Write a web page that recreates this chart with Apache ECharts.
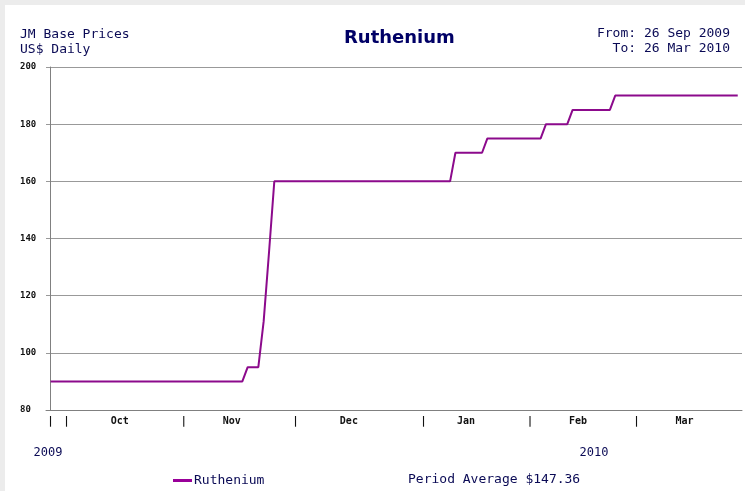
<!DOCTYPE html>
<html><head><meta charset="utf-8">
<script src="https://cdn.jsdelivr.net/npm/echarts@6/dist/echarts.min.js"></script>
<style>
html,body{margin:0;padding:0;background:#ececec;width:745px;height:491px;overflow:hidden}
#c{position:absolute;left:5px;top:5px;width:740px;height:486px;background:#fff}
</style></head><body><div id="c"></div>
<script>
// ---- data (x = trading-day index from 28 Sep 2009) ----
const seriesName = 'Ruthenium';
const dayIdx = [0, 36, 37, 39, 40, 41, 42, 75, 76, 81, 82, 92, 93, 97, 98, 105, 106, 129];
const price  = [90, 90, 95, 95, 111, 135, 160, 160, 170, 170, 175, 175, 180, 180, 185, 185, 190, 190];
const monthStartIdx = [0, 3, 25, 46, 70, 90, 110];
const monthLabelIdx = [13, 34, 56, 78, 99, 119];
const monthLabels = ['Oct', 'Nov', 'Dec', 'Jan', 'Feb', 'Mar'];
const yearLabelIdx = [-0.5, 102];
const yearLabels = ['2009', '2010'];
const yMin = 80, yMax = 200, yStep = 20;
const xMin = -0.86, xMax = 129.8;
const titleText = 'Ruthenium';
const headerLeft = 'JM Base Prices\nUS$ Daily';
const headerRight1 = 'From: 26 Sep 2009';
const headerRight2 = 'To: 26 Mar 2010';
const periodAverage = '147.36';

const mono = '"DejaVu Sans Mono", monospace';
const navy = '#0a0a55';

const xLabelMap = {};
monthStartIdx.forEach(v => xLabelMap[String(v)] = '|');
monthLabelIdx.forEach((v, i) => xLabelMap[String(v)] = monthLabels[i]);
const yearMap = {};
yearLabelIdx.forEach((v, i) => yearMap[String(v)] = yearLabels[i]);

const chart = echarts.init(document.getElementById('c'), null, {renderer: 'canvas'});
chart.setOption({
  animation: false,
  backgroundColor: '#ffffff',
  grid: {left: 41, right: 3, top: 62, bottom: 81, containLabel: false},
  legend: {
    data: [seriesName], left: 163, top: 464,
    icon: 'rect', itemWidth: 19, itemHeight: 3, itemGap: 4,
    textStyle: {fontFamily: mono, fontSize: 13, color: navy, padding: [0, 0, 0, -3]}
  },
  graphic: [
    {type: 'text', left: 15, top: 22, style: {text: headerLeft, font: '13px ' + mono, fill: navy, lineHeight: 15}},
    {type: 'text', right: 15, top: 22, style: {text: headerRight1, font: '13px ' + mono, fill: navy, align: 'right'}},
    {type: 'text', right: 15, top: 37, style: {text: headerRight2, font: '13px ' + mono, fill: navy, align: 'right'}},
    {type: 'text', left: 339, top: 24, style: {text: titleText, font: 'bold 18px "DejaVu Sans", sans-serif', fill: '#000066'}},
    {type: 'text', left: 403, top: 468, style: {text: 'Period Average $' + periodAverage, font: '13px ' + mono, fill: navy}}
  ],
  xAxis: [{
    type: 'value', min: xMin, max: xMax,
    axisLine: {show: true, onZero: false, lineStyle: {color: '#808080', width: 1}},
    axisTick: {show: false},
    splitLine: {show: false},
    axisLabel: {
      customValues: monthStartIdx.concat(monthLabelIdx),
      formatter: v => xLabelMap[String(v)] || '',
      margin: 6, fontFamily: mono, fontSize: 10, fontWeight: 'bold', color: '#111',
      hideOverlap: false, showMinLabel: true, showMaxLabel: true
    }
  }, {
    type: 'value', min: xMin, max: xMax, position: 'bottom',
    axisLine: {show: false}, axisTick: {show: false}, splitLine: {show: false},
    axisLabel: {
      customValues: yearLabelIdx,
      formatter: v => yearMap[String(v)] || '',
      margin: 37, fontFamily: mono, fontSize: 12, color: navy, hideOverlap: false
    }
  }],
  yAxis: {
    type: 'value', min: yMin, max: yMax, interval: yStep,
    axisLine: {show: true, lineStyle: {color: '#808080', width: 1}},
    axisTick: {show: false},
    splitLine: {show: true, lineStyle: {color: '#999999', width: 1}},
    axisLabel: {align: 'left', margin: 26, fontFamily: mono, fontSize: 9, fontWeight: 'bold', color: '#111'}
  },
  series: [{
    name: seriesName, type: 'line', xAxisIndex: 0,
    data: dayIdx.map((d, i) => [d, price[i]]),
    showSymbol: false, symbol: 'none',
    lineStyle: {color: '#8c0a8c', width: 2},
    itemStyle: {color: '#990099'}
  }]
});
</script></body></html>
